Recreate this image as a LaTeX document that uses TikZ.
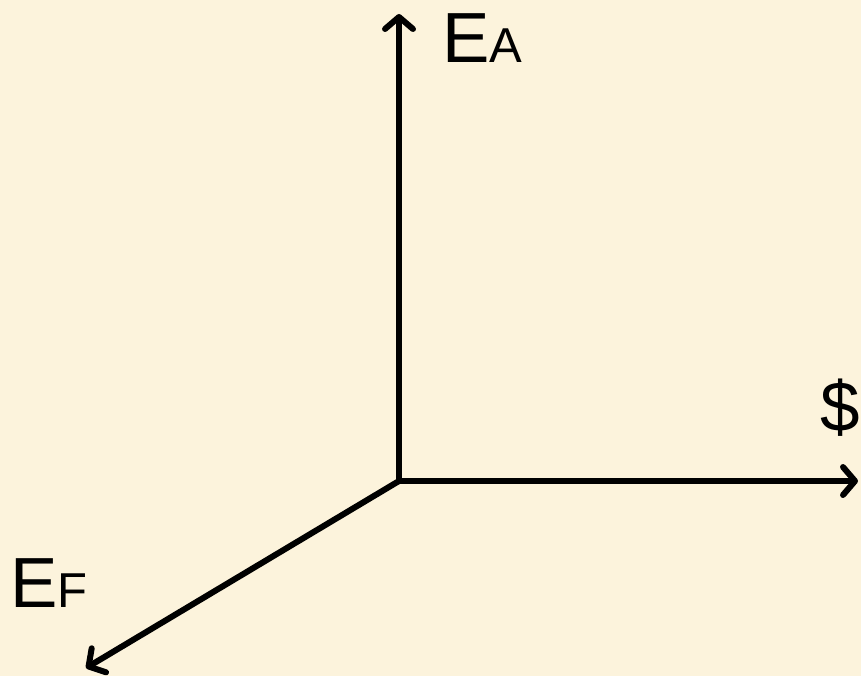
\documentclass[tikz,border=0pt]{standalone}
\usepackage{fontspec}
\setmainfont{Liberation Sans}
\usetikzlibrary{arrows.meta}
\definecolor{parch}{RGB}{252,243,220}
\begin{document}
\begin{tikzpicture}[x=1pt,y=-1pt,
  axis/.style={line width=6pt,line cap=round,line join=round,
    -{Straight Barb[length=12pt,width=28pt,line width=6pt,round]}},
  lbl/.style={inner sep=0pt,anchor=base west,font=\fontsize{71}{71}\selectfont}]
\fill[parch] (0,0) rectangle (861,676);
\useasboundingbox (0,0) rectangle (861,676);
\coordinate (O) at (399,481);
\coordinate (top) at (399,14);
\coordinate (right) at (858,481);
\coordinate (left) at (86,668);
\draw[axis] (O) -- (top);
\draw[axis] (O) -- (right);
\draw[axis] (O) -- (left);
\node[lbl] (ea) at (442,63) {E{\fontsize{49}{49}\selectfont A}};
\node[lbl] (dol) at (820,431) {\$};
\node[lbl] (ef) at (10,607) {E{\fontsize{49}{49}\selectfont F}};
\end{tikzpicture}
\end{document}
